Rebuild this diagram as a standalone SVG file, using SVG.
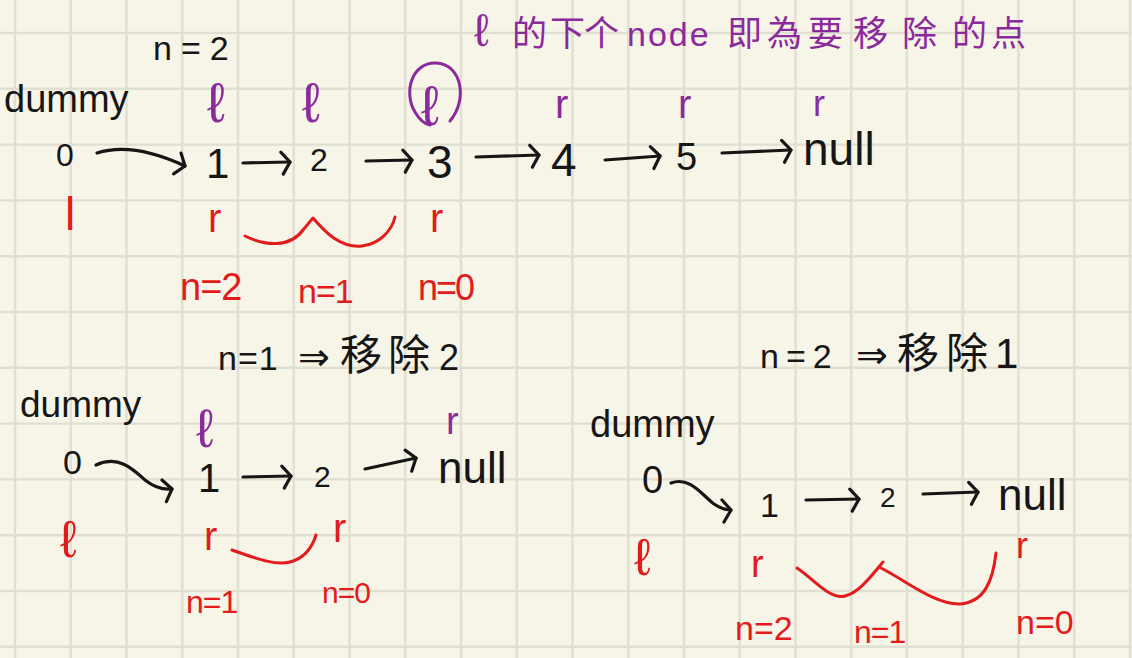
<svg xmlns="http://www.w3.org/2000/svg" width="1132" height="658" viewBox="0 0 1132 658">
<style>
text{font-family:"Liberation Sans","DejaVu Sans",sans-serif}
.cjk{font-family:"Noto Sans CJK TC","Noto Sans CJK SC",sans-serif}
.k{fill:#161616}
.p{fill:#8b2a9b}
.r{fill:#e21c1c}
.grid{fill:none;stroke:#e1ded2;stroke-width:2.4}
.ln{fill:none;stroke:#161616;stroke-width:3.2;stroke-linecap:round;stroke-linejoin:round}
.rc{fill:none;stroke:#e21c1c;stroke-width:3;stroke-linecap:round;stroke-linejoin:round}
.pc{fill:none;stroke:#8b2a9b;stroke-width:3;stroke-linecap:round}
</style>
<defs>
<marker id="ah" markerUnits="userSpaceOnUse" markerWidth="24" markerHeight="30" viewBox="-12 -15 24 30" refX="0" refY="0" orient="auto" overflow="visible">
<path d="M-9 -10 L0 0 L-7 12" fill="none" stroke="#161616" stroke-width="3.2" stroke-linecap="round" stroke-linejoin="round"/>
</marker>
</defs>
<rect width="1132" height="658" fill="#f7f4e8"/>
<path class="grid" d="M15 0V658M70.75 0V658M126.5 0V658M182.25 0V658M238 0V658M293.75 0V658M349.5 0V658M405.25 0V658M461 0V658M516.75 0V658M572.5 0V658M628.25 0V658M684 0V658M739.75 0V658M795.5 0V658M851.25 0V658M907 0V658M962.75 0V658M1018.5 0V658M1074.25 0V658M1130 0V658M0 33H1132M0 88.8H1132M0 144.6H1132M0 200.4H1132M0 256.2H1132M0 312H1132M0 367.8H1132M0 423.6H1132M0 479.4H1132M0 535.2H1132M0 591H1132M0 646.8H1132"/>

<!-- Top section -->
<g id="title">
<text class="p" y="46" font-size="35"><tspan x="474" font-size="46">ℓ</tspan><tspan class="cjk" x="512">的</tspan><tspan class="cjk" x="550">下</tspan><tspan class="cjk" x="584">个</tspan><tspan x="627" font-size="34" letter-spacing="2">node</tspan><tspan class="cjk" x="727">即</tspan><tspan class="cjk" x="767">為</tspan><tspan class="cjk" x="808">要</tspan><tspan class="cjk" x="853">移</tspan><tspan class="cjk" x="902">除</tspan><tspan class="cjk" x="952">的</tspan><tspan class="cjk" x="991">点</tspan></text>
</g>
<g id="top-n">
<text class="k" x="153" y="60" font-size="34" letter-spacing="9">n=2</text>
</g>
<g id="top-dummy">
<text class="k" x="4" y="112" font-size="38">dummy</text>
</g>
<g id="top-node0">
<text class="k" x="56" y="166" font-size="32">0</text>
<text class="r" x="65" y="230" font-size="46">l</text>
</g>
<g id="top-node1">
<text class="p" x="207" y="122" font-size="56">ℓ</text>
<text class="k" x="206" y="178" font-size="42">1</text>
<text class="r" x="208" y="232" font-size="40">r</text>
<text class="r" x="180" y="300" font-size="38" letter-spacing="-1">n=2</text>
</g>
<g id="top-node2">
<text class="p" x="302" y="122" font-size="56">ℓ</text>
<text class="k" x="310" y="171" font-size="32">2</text>
<text class="r" x="298" y="303" font-size="34" letter-spacing="-1">n=1</text>
</g>
<g id="top-node3">
<path class="pc" d="M450 121 C 468 100, 462 64, 436 63 C 412 62, 403 92, 415 112 C 419 119, 424 124, 430 125"/>
<text class="p" x="421" y="125" font-size="56">ℓ</text>
<text class="k" x="427" y="178" font-size="46">3</text>
<text class="r" x="430" y="232" font-size="40">r</text>
<text class="r" x="418" y="300" font-size="36" letter-spacing="-2">n=0</text>
</g>
<g id="top-node4">
<text class="p" x="555" y="118" font-size="40">r</text>
<text class="k" x="551" y="176" font-size="46">4</text>
</g>
<g id="top-node5">
<text class="p" x="678" y="118" font-size="40">r</text>
<text class="k" x="676" y="170" font-size="38">5</text>
</g>
<g id="top-null">
<text class="p" x="813" y="116" font-size="36">r</text>
<text class="k" x="803" y="165" font-size="46">null</text>
</g>

<!-- Bottom-left section -->
<g id="bl-title">
<text class="k" y="370"><tspan x="218" font-size="34" letter-spacing="1">n=1</tspan><tspan x="298" font-size="38">⇒</tspan><tspan class="cjk" x="340" font-size="42">移</tspan><tspan class="cjk" x="388" font-size="42">除</tspan><tspan x="439" font-size="36">2</tspan></text>
</g>
<g id="bl-dummy">
<text class="k" x="20" y="417" font-size="37">dummy</text>
</g>
<g id="bl-node0">
<text class="k" x="63" y="474" font-size="34">0</text>
<text class="r" x="60" y="557" font-size="52">ℓ</text>
</g>
<g id="bl-node1">
<text class="p" x="196" y="447" font-size="54">ℓ</text>
<text class="k" x="198" y="492" font-size="40">1</text>
<text class="r" x="204" y="550" font-size="40">r</text>
<text class="r" x="186" y="613" font-size="32" letter-spacing="-1">n=1</text>
</g>
<g id="bl-node2">
<text class="k" x="314" y="487" font-size="30">2</text>
<text class="r" x="333" y="542" font-size="40">r</text>
<text class="r" x="322" y="603" font-size="30" letter-spacing="-1">n=0</text>
</g>
<g id="bl-null">
<text class="p" x="446" y="434" font-size="38">r</text>
<text class="k" x="438" y="483" font-size="44">null</text>
</g>

<!-- Bottom-right section -->
<g id="br-title">
<text class="k" y="368"><tspan x="760" font-size="34" letter-spacing="7">n=2</tspan><tspan x="856" font-size="38">⇒</tspan><tspan class="cjk" x="897" font-size="42">移</tspan><tspan class="cjk" x="946" font-size="42">除</tspan><tspan x="995" font-size="42">1</tspan></text>
</g>
<g id="br-dummy">
<text class="k" x="590" y="437" font-size="38">dummy</text>
</g>
<g id="br-node0">
<text class="k" x="642" y="493" font-size="38">0</text>
<text class="r" x="634" y="575" font-size="52">ℓ</text>
</g>
<g id="br-node1">
<text class="k" x="760" y="517" font-size="34">1</text>
<text class="r" x="751" y="577" font-size="38">r</text>
<text class="r" x="735" y="640" font-size="34">n=2</text>
</g>
<g id="br-node2">
<text class="k" x="880" y="507" font-size="28">2</text>
<text class="r" x="854" y="643" font-size="32" letter-spacing="-1">n=1</text>
</g>
<g id="br-null">
<text class="k" x="998" y="510" font-size="44">null</text>
<text class="r" x="1016" y="558" font-size="36">r</text>
<text class="r" x="1016" y="634" font-size="34">n=0</text>
</g>

<!-- Connectors -->
<g id="connectors">
<path class="ln" marker-end="url(#ah)" d="M97 153 C 125 144, 155 152, 185 166"/>
<path class="ln" marker-end="url(#ah)" d="M243 163 L290 162"/>
<path class="ln" marker-end="url(#ah)" d="M366 161 L412 160"/>
<path class="ln" marker-end="url(#ah)" d="M476 157 L539 155"/>
<path class="ln" marker-end="url(#ah)" d="M605 160 L660 156"/>
<path class="ln" marker-end="url(#ah)" d="M722 153 L791 150"/>
<path class="ln" marker-end="url(#ah)" d="M96 465 C 118 455, 132 468, 145 480 C 155 488, 163 490, 172 489"/>
<path class="ln" marker-end="url(#ah)" d="M243 477 L291 476"/>
<path class="ln" marker-end="url(#ah)" d="M365 469 L416 458"/>
<path class="ln" marker-end="url(#ah)" d="M671 483 C 690 476, 702 495, 714 504 C 720 508, 726 510, 731 510"/>
<path class="ln" marker-end="url(#ah)" d="M806 500 L859 499"/>
<path class="ln" marker-end="url(#ah)" d="M923 494 L978 492"/>
<path class="rc" d="M245 236 C 265 246, 290 248, 303 230 L313 218 C 325 232, 340 248, 362 246 C 380 244, 392 230, 395 217"/>
<path class="rc" d="M232 550 C 255 558, 275 566, 290 562 C 305 558, 312 548, 316 535"/>
<path class="rc" d="M797 568 C 815 580, 830 600, 845 596 C 860 592, 872 575, 883 562 M881 568 C 905 580, 935 605, 960 604 C 985 602, 993 580, 996 553"/>
</g>
</svg>
